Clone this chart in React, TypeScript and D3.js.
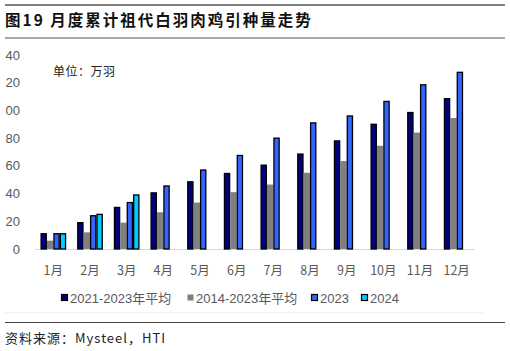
import React, { useEffect, useRef } from "react";
import * as d3 from "d3";

const months = ["1月", "2月", "3月", "4月", "5月", "6月", "7月", "8月", "9月", "10月", "11月", "12月"];
const seriesNames = ["2021-2023年平均", "2014-2023年平均", "2023", "2024"];
const avg2123 = [11, 19, 30, 40.5, 48.5, 54.5, 60.5, 68.5, 78, 90, 98.5, 108.5];
const avg1423 = [6, 12, 19, 26.5, 33.5, 41, 46.5, 55, 63.5, 74.5, 84, 94.5];
const y2023 = [11, 24, 33.5, 45.5, 57, 67.5, 80, 91, 96, 106.5, 118.5, 127.5];
const y2024 = [11, 25, 39];
const yTicks = [0, 20, 40, 60, 80, 100, 120, 140];
// tick labels as printed in the source image (leading digit cropped off there)
const yTickLabels = ["0", "20", "40", "60", "80", "00", "20", "40"];

const colors = ["#00007a", "#808080", "#3366ff", "#00ccff"];
const strokes = ["#000", "none", "#000", "#000"];

export default function App() {
  const ref = useRef<SVGSVGElement>(null);
  useEffect(() => {
    const svg = d3.select(ref.current);
    svg.selectAll("*").remove();
    const x0 = 35, x1 = 475, yBase = 249, yTop = 55;
    const x = d3.scaleBand<string>().domain(months).range([x0, x1]).paddingInner(0.3).paddingOuter(0.15);
    const xs = d3.scaleBand<string>().domain(seriesNames).range([0, x.bandwidth()]);
    const y = d3.scaleLinear().domain([0, 140]).range([yBase, yTop]);
    const gray = "#595959";

    svg.append("line").attr("x1", 5).attr("x2", 505).attr("y1", 5).attr("y2", 5).attr("stroke", "#555").attr("stroke-width", 1.5);
    svg.append("text").attr("x", 5).attr("y", 26).attr("font-family", "'Noto Sans CJK SC', sans-serif").attr("font-weight", "bold")
      .attr("font-size", 15.5).attr("letter-spacing", 2).attr("fill", "#111").text("图19 月度累计祖代白羽肉鸡引种量走势");
    svg.append("line").attr("x1", 5).attr("x2", 505).attr("y1", 38).attr("y2", 38).attr("stroke", "#555").attr("stroke-width", 1.2);

    svg.append("g").selectAll("text").data(yTicks).join("text")
      .attr("x", 20).attr("y", (d) => y(d)).attr("dy", "0.35em").attr("text-anchor", "end")
      .attr("font-family", "'Liberation Sans', Arial, sans-serif").attr("font-size", 13).attr("fill", gray)
      .text((d, i) => yTickLabels[i]);

    svg.append("text").attr("x", 53).attr("y", 76).attr("font-family", "'Noto Sans CJK SC', serif").attr("font-size", 12).attr("letter-spacing", 0.5).attr("fill", "#222").text("单位：万羽");

    svg.append("line").attr("x1", x0).attr("x2", x1).attr("y1", yBase + 0.5).attr("y2", yBase + 0.5).attr("stroke", "#d9d9d9").attr("stroke-width", 1.2);

    const series = [avg2123, avg1423, y2023, y2024];
    series.forEach((vals, si) => {
      const st = strokes[si] !== "none";
      svg.append("g").selectAll("rect").data(vals.map((v, i) => ({ m: months[i], v }))).join("rect")
        .attr("x", (d) => (x(d.m) as number) + (xs(seriesNames[si]) as number) + (st ? 0.6 : 0))
        .attr("width", xs.bandwidth() - (st ? 1.2 : 0))
        .attr("y", (d) => y(d.v))
        .attr("height", (d) => yBase - y(d.v))
        .attr("fill", colors[si])
        .attr("stroke", strokes[si])
        .attr("stroke-width", 1.3);
    });

    svg.append("g").selectAll("text").data(months).join("text")
      .attr("x", (d) => (x(d) as number) + x.bandwidth() / 2).attr("y", 271).attr("dy", "0.35em")
      .attr("text-anchor", "middle").attr("font-family", "'Noto Sans CJK SC', sans-serif").attr("font-size", 12.5).attr("fill", gray)
      .text((d) => d);

    const legX = [61, 187, 311, 361];
    const lg = svg.append("g");
    seriesNames.forEach((n, i) => {
      lg.append("rect").attr("x", legX[i] + 0.5).attr("y", 294.5).attr("width", 6).attr("height", 6)
        .attr("fill", colors[i]).attr("stroke", strokes[i] === "none" ? "none" : "#000").attr("stroke-width", 1.2);
      lg.append("text").attr("x", legX[i] + 9).attr("y", 298).attr("dy", "0.35em")
        .attr("font-family", "'Liberation Sans', 'Noto Sans CJK SC', sans-serif").attr("font-size", 13).attr("fill", gray).text(n);
    });

    svg.append("line").attr("x1", 5).attr("x2", 483).attr("y1", 312.5).attr("y2", 312.5).attr("stroke", "#f0f0f0");
    svg.append("line").attr("x1", 5).attr("x2", 505).attr("y1", 322.5).attr("y2", 322.5).attr("stroke", "#444").attr("stroke-width", 1.2);
    svg.append("text").attr("x", 5).attr("y", 338).attr("dy", "0.35em").attr("font-family", "'Noto Sans CJK SC', sans-serif")
      .attr("font-size", 13).attr("letter-spacing", 1).attr("fill", "#222").text("资料来源：Mysteel，HTI");
  }, []);
  return (
    <svg ref={ref} width={510} height={351} style={{ position: "absolute", left: 0, top: 0, background: "#fff" }} />
  );
}
